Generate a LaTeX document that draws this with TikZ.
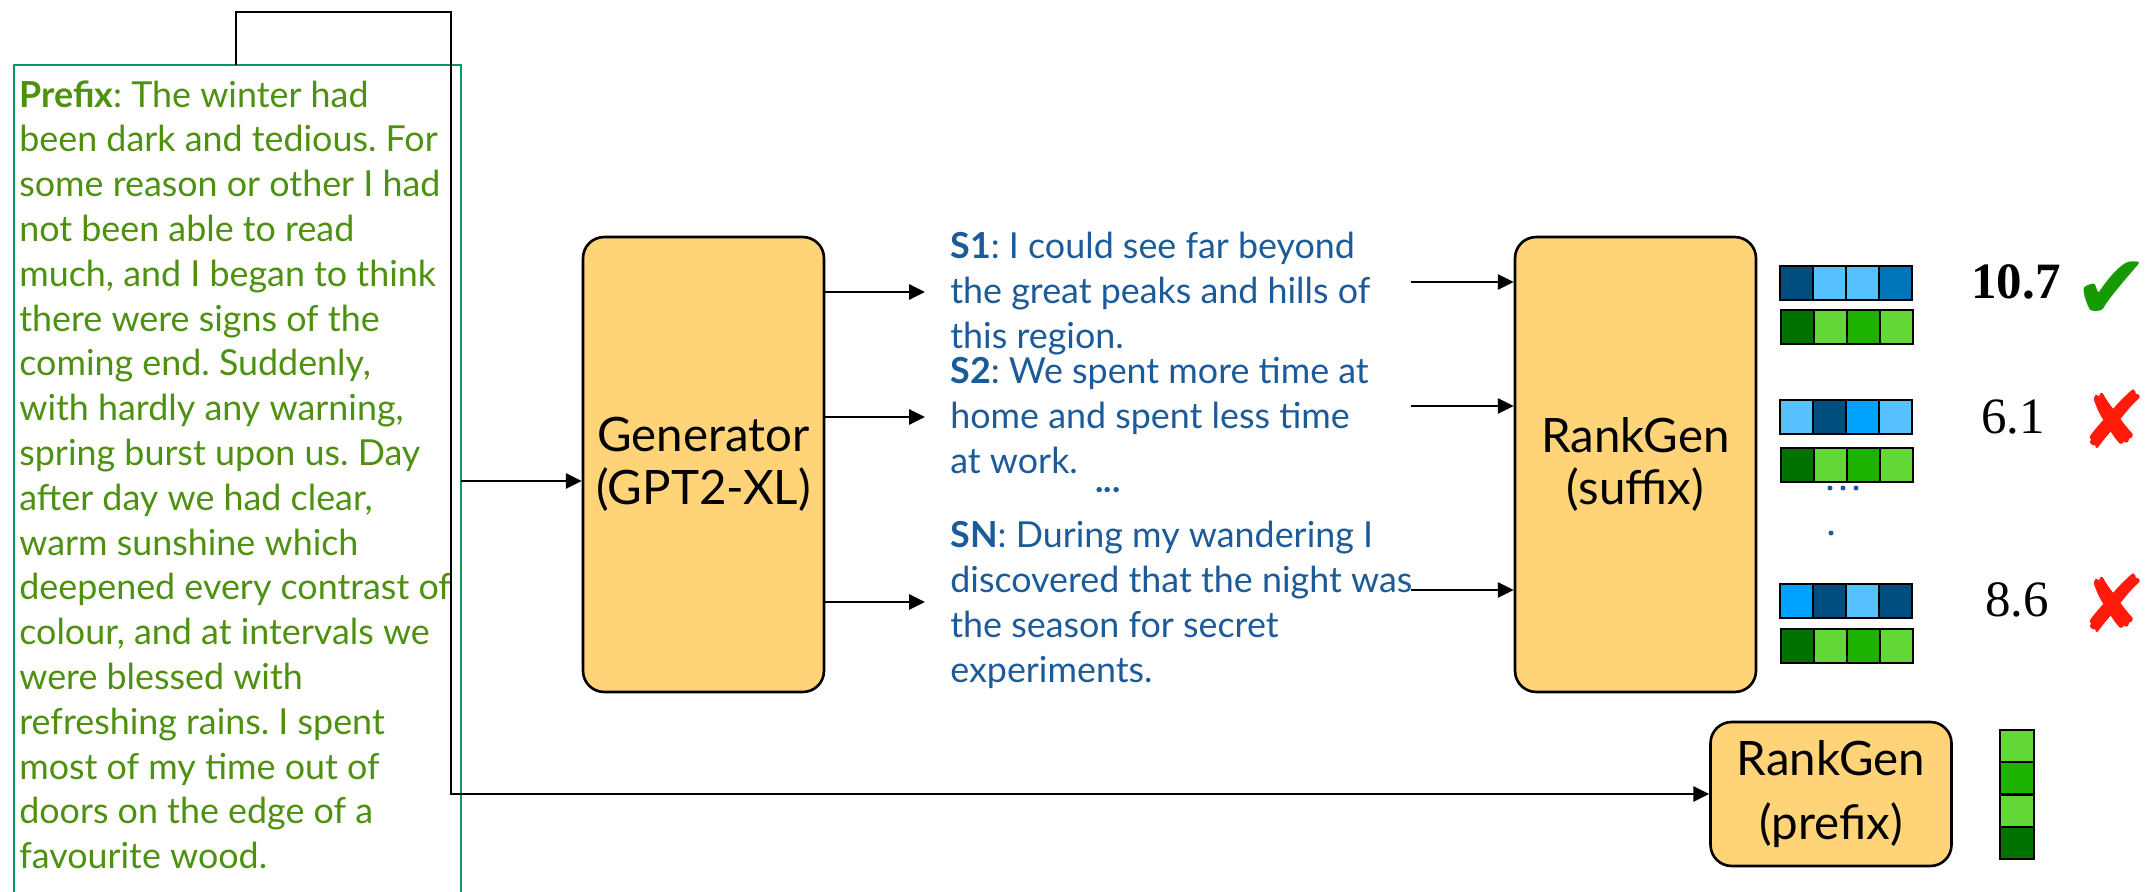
\documentclass[tikz,border=0pt]{standalone}
\usepackage{fontspec}
\usepackage{xcolor}
\usetikzlibrary{arrows.meta}
\setmainfont{Lato}
\newfontfamily\numfont{Liberation Serif}
\newfontfamily\symfont{DejaVu Sans}
\frenchspacing

\definecolor{boxfill}{HTML}{FFD479}
\definecolor{prefixgreen}{HTML}{4E9010}
\definecolor{prefixframe}{HTML}{0E9560}
\definecolor{sampleblue}{HTML}{1C5B99}
\definecolor{dkblue}{HTML}{004D80}
\definecolor{ltblue}{HTML}{56C1FF}
\definecolor{mdblue}{HTML}{0076BA}
\definecolor{brblue}{HTML}{00A2FF}
\definecolor{dkgreen}{HTML}{017100}
\definecolor{ltgreen}{HTML}{61D836}
\definecolor{mdgreen}{HTML}{1DB100}
\definecolor{okgreen}{HTML}{169A00}
\definecolor{badred}{HTML}{FF1A0A}

\tikzset{
  modelbox/.style={draw, line width=1.5pt, fill=boxfill, rounded corners=12pt,
    minimum width=4.82cm, align=center, font=\fontsize{27pt}{30pt}\selectfont},
  prefixtext/.style={anchor=north west, inner xsep=0.1cm,
    inner ysep=0.3cm, align=left, text=prefixgreen,
    font=\fontsize{20.4pt}{25.5pt}\selectfont},
  sample/.style={anchor=base west, align=left, inner sep=0pt, text=sampleblue,
    font=\fontsize{20.4pt}{25.5pt}\selectfont},
  arr/.style={-{Triangle[length=9pt,width=8.5pt]}, line width=1.5pt},
  cell/.style={draw, line width=1.3pt},
  score/.style={font=\numfont\fontsize{29pt}{29pt}\selectfont}
}

\begin{document}
\begin{tikzpicture}[x=0.02cm, y=-0.02cm]
  \useasboundingbox (0,0) rectangle (2148,892);

  % input prefix
  \node [prefixtext] (prefix) at (14,65)
  {\textbf{Prefix}: The winter had\\
   been dark and tedious. For\\
   some reason or other I had\\
   not been able to read\\
   much, and I began to think\\
   there were signs of the\\
   coming end. Suddenly,\\
   with hardly any warning,\\
   spring burst upon us. Day\\
   after day we had clear,\\
   warm sunshine which\\
   deepened every contrast of\\
   colour, and at intervals we\\
   were blessed with\\
   refreshing rains. I spent\\
   most of my time out of\\
   doors on the edge of a\\
   favourite wood.};
  \coordinate (pframe) at (461,910);
  \draw [prefixframe, line width=1.3pt] (prefix.north west) rectangle (pframe);

  % models
  \node [modelbox, minimum height=9.1cm] (gen) at (703.5,464.5) {Generator\\(GPT2-XL)};
  \node [modelbox, minimum height=9.1cm] (rankS) at (1635.5,464.5) {RankGen\\(suffix)};
  \node [modelbox, minimum height=2.88cm, font=\fontsize{27pt}{36pt}\selectfont] (rankP) at (1831,794) {RankGen\\(prefix)};

  % generated samples
  \node [sample] (s1) at (950,348) {\textbf{S1}: I could see far beyond\\the great peaks and hills of\\this region.};
  \node [sample] (s2) at (950,473) {\textbf{S2}: We spent more time at\\home and spent less time\\at work.};
  \node [sample] (sn) at (950,682) {\textbf{SN}: During my wandering I\\discovered that the night was\\the season for secret\\experiments.};
  \node [text=sampleblue, font=\fontsize{20pt}{20pt}\selectfont\bfseries] (sdots) at (1108,490) {...};

  % connectors
  \coordinate (top) at (236,12);
  \coordinate (turn) at (451,12);
  \draw [arr] (prefix.north -| top) -- (top) -| (rankP.west -| turn) -- (rankP.west);
  \coordinate (gin) at (583,481);
  \draw [arr] (pframe |- gin) -- (gen.west |- gin);

  \coordinate (o1) at (925,292);
  \coordinate (o2) at (925,417);
  \coordinate (o3) at (925,602);
  \foreach \o in {o1,o2,o3}
    \draw [arr] (\o -| gen.east) -- (\o);

  \coordinate (i1) at (1411,282);
  \coordinate (i2) at (1411,406);
  \coordinate (i3) at (1411,590);
  \foreach \i in {i1,i2,i3}
    \draw [arr] (\i) -- (\i -| rankS.west);

  % embeddings
  \foreach \y/\cols in {266/{dkblue,ltblue,ltblue,mdblue},
                        400/{ltblue,dkblue,brblue,ltblue},
                        584/{brblue,dkblue,ltblue,dkblue}}
    \foreach \c [count=\k from 0] in \cols
      \draw [cell, fill=\c] ({1780+33*\k},\y) rectangle ++(33,34);
  \foreach \y in {310,448,629}
    \foreach \c [count=\k from 0] in {dkgreen,ltgreen,mdgreen,ltgreen}
      \draw [cell, fill=\c] ({1781+33*\k},\y) rectangle ++(33,34);
  \foreach \c [count=\k from 0] in {ltgreen,mdgreen,ltgreen,dkgreen}
    \draw [cell, fill=\c] (2000,{730+32.25*\k}) rectangle ++(34,32.25);
  \foreach \x in {1830,1843,1856}
    \fill [sampleblue] (\x,488) circle [radius=0.05cm];
  \fill [sampleblue] (1831,533) circle [radius=0.05cm];

  % scores
  \node [score] (sc1) at (2016,282) {\textbf{10.7}};
  \node [score] (sc2) at (2013,417) {6.1};
  \node [score] (sc3) at (2017,600) {8.6};
  \node [text=okgreen, font=\symfont\fontsize{52pt}{52pt}\selectfont] (ok) at (2112,291) {✔};
  \node [text=badred, font=\symfont\fontsize{45pt}{45pt}\selectfont] (bad1) at (2114,419) {✘};
  \node [text=badred, font=\symfont\fontsize{45pt}{45pt}\selectfont] (bad2) at (2114,603) {✘};
\end{tikzpicture}
\end{document}
